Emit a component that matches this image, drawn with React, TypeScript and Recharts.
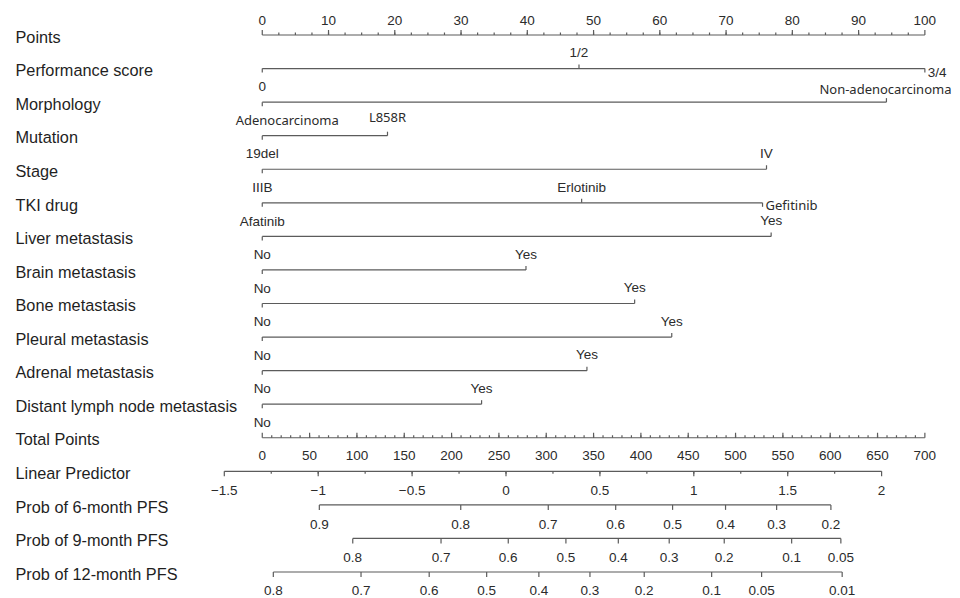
import React from 'react'
import { ComposedChart, Scatter, XAxis, YAxis } from 'recharts'

// Nomogram for progression-free survival (EGFR-TKI cohort).
// Every row sits on one shared "points" x scale (0–100); total points,
// linear predictor and probability scales are mapped onto it.

const ROW_NAMES = [
  'Points',
  'Performance score',
  'Morphology',
  'Mutation',
  'Stage',
  'TKI drug',
  'Liver metastasis',
  'Brain metastasis',
  'Bone metastasis',
  'Pleural metastasis',
  'Adrenal metastasis',
  'Distant lymph node metastasis',
  'Total Points',
  'Linear Predictor',
  'Prob of 6-month PFS',
  'Prob of 9-month PFS',
  'Prob of 12-month PFS',
]

// predictor levels and their points
const PERF_LEVELS = ['0', '1/2', '3/4']
const PERF_POINTS = [0, 47.8, 100]
const MORPH_LEVELS = ['Adenocarcinoma', 'Non-adenocarcinoma']
const MORPH_POINTS = [0, 94.2]
const MUTATION_LEVELS = ['19del', 'L858R']
const MUTATION_POINTS = [0, 18.9]
const STAGE_LEVELS = ['IIIB', 'IV']
const STAGE_POINTS = [0, 76.1]
const TKI_LEVELS = ['Afatinib', 'Erlotinib', 'Gefitinib']
const TKI_POINTS = [0, 48.2, 75.5]
const YES_NO = ['No', 'Yes']
const LIVER_POINTS = [0, 76.8]
const BRAIN_POINTS = [0, 39.8]
const BONE_POINTS = [0, 56.2]
const PLEURAL_POINTS = [0, 61.8]
const ADRENAL_POINTS = [0, 49.0]
const LYMPH_POINTS = [0, 33.1]

// scales
const POINT_TICKS = [0, 10, 20, 30, 40, 50, 60, 70, 80, 90, 100]
const TOTAL_TICKS = [0, 50, 100, 150, 200, 250, 300, 350, 400, 450, 500, 550, 600, 650, 700]
const LP_TICKS = [-1.5, -1, -0.5, 0, 0.5, 1, 1.5, 2]
const PFS6_PROBS = [0.9, 0.8, 0.7, 0.6, 0.5, 0.4, 0.3, 0.2]
const PFS6_LP = [-0.994, -0.241, 0.225, 0.584, 0.887, 1.169, 1.441, 1.73]
const PFS9_PROBS = [0.8, 0.7, 0.6, 0.5, 0.4, 0.3, 0.2, 0.1, 0.05]
const PFS9_LP = [-0.816, -0.346, 0.012, 0.319, 0.598, 0.869, 1.162, 1.521, 1.783]
const PFS12_PROBS = [0.8, 0.7, 0.6, 0.5, 0.4, 0.3, 0.2, 0.1, 0.05, 0.01]
const PFS12_LP = [-1.239, -0.772, -0.409, -0.103, 0.175, 0.447, 0.736, 1.095, 1.361, 1.79]

const TOTAL_MAX = 700 // total points at 100 points
const LP_ZERO_TOTAL = 257.5 // total points where linear predictor = 0
const TOTAL_PER_LP = 198.4

const totalToPoints = (t: number) => (t / TOTAL_MAX) * 100
const lpToPoints = (lp: number) => totalToPoints(LP_ZERO_TOTAL + lp * TOTAL_PER_LP)

const LINE = '#5b5b5b'
const TEXT = '#2b2b2b'
const FONT = '"Liberation Sans", Arial, sans-serif'

type Mark = {
  x: number
  y: number
  label: string
  dir: 'up' | 'down'
  len: number
  pos: 'above' | 'below' | 'right' | 'none'
  gap: number
}

// a few level labels were set in a different face
const ALT_LABELS: Record<string, { dx: number; dy: number }> = {
  Adenocarcinoma: { dx: 25, dy: 0 },
  'Non-adenocarcinoma': { dx: -1, dy: 3 },
  L858R: { dx: 0, dy: -2 },
  Gefitinib: { dx: 0, dy: -1.5 },
}

function categoryMarks(row: number, levels: string[], points: number[]): Mark[] {
  return levels.map((label, i) => {
    const pos = i === 0 ? 'below' : i % 2 === 1 ? 'above' : 'right'
    return {
      x: points[i],
      y: row,
      label,
      dir: pos === 'above' ? 'up' : 'down',
      len: 4,
      pos,
      gap: pos === 'above' ? 16 : 18,
    } as Mark
  })
}

function axisMarks(
  row: number,
  values: number[],
  at: (v: number) => number,
  fmt: (v: number) => string,
  dir: 'up' | 'down',
  pos: 'above' | 'below',
  gap: number,
): Mark[] {
  return values.map((v) => ({ x: at(v), y: row, label: fmt(v), dir, len: 5, pos, gap }))
}

function minorMarks(row: number, from: number, to: number, step: number, at: (v: number) => number, dir: 'up' | 'down'): Mark[] {
  const out: Mark[] = []
  for (let v = from + step; v < to - 1e-9; v += step) {
    out.push({ x: at(v), y: row, label: '', dir, len: 2.5, pos: 'none', gap: 0 })
  }
  return out
}

const signed = (v: number) => (v < 0 ? `\u2212${Math.abs(v)}` : String(v))
const id = (v: number) => v

const MAIN_ROWS: Mark[][] = [
  axisMarks(0, POINT_TICKS, id, String, 'up', 'above', 14.5),
  categoryMarks(1, PERF_LEVELS, PERF_POINTS),
  categoryMarks(2, MORPH_LEVELS, MORPH_POINTS),
  categoryMarks(3, MUTATION_LEVELS, MUTATION_POINTS),
  categoryMarks(4, STAGE_LEVELS, STAGE_POINTS),
  categoryMarks(5, TKI_LEVELS, TKI_POINTS),
  categoryMarks(6, YES_NO, LIVER_POINTS),
  categoryMarks(7, YES_NO, BRAIN_POINTS),
  categoryMarks(8, YES_NO, BONE_POINTS),
  categoryMarks(9, YES_NO, PLEURAL_POINTS),
  categoryMarks(10, YES_NO, ADRENAL_POINTS),
  categoryMarks(11, YES_NO, LYMPH_POINTS),
  axisMarks(12, TOTAL_TICKS, totalToPoints, String, 'up', 'below', 17.5),
  axisMarks(13, LP_TICKS, lpToPoints, signed, 'down', 'below', 18.5),
  axisMarks(14, PFS6_LP, lpToPoints, (v) => String(PFS6_PROBS[PFS6_LP.indexOf(v)]), 'down', 'below', 19),
  axisMarks(15, PFS9_LP, lpToPoints, (v) => String(PFS9_PROBS[PFS9_LP.indexOf(v)]), 'down', 'below', 19),
  axisMarks(16, PFS12_LP, lpToPoints, (v) => String(PFS12_PROBS[PFS12_LP.indexOf(v)]), 'down', 'below', 18),
]

const MINOR_ROWS: Mark[][] = [
  minorMarks(0, 0, 100, 2.5, id, 'up'),
  minorMarks(12, 0, 700, 10, totalToPoints, 'up'),
  minorMarks(13, -1.5, 2, 0.25, lpToPoints, 'down'),
]

const ROW_TICKS = ROW_NAMES.map((_, i) => i)

function renderMark(props: any) {
  const { cx, cy, payload } = props
  if (cx == null || cy == null) return <g />
  const m = payload as Mark
  const y2 = m.dir === 'up' ? cy - m.len : cy + m.len
  const alt = ALT_LABELS[m.label]
  let tx = cx + (alt ? alt.dx : 0)
  let ty = cy + (alt ? alt.dy : 0)
  let anchor: 'middle' | 'start' = 'middle'
  if (m.pos === 'above') ty -= m.gap
  else if (m.pos === 'below') ty += m.gap
  else if (m.pos === 'right') {
    tx = cx + 3
    ty += 4
    anchor = 'start'
  }
  return (
    <g>
      <line x1={cx} x2={cx} y1={cy} y2={y2} stroke={LINE} strokeWidth={1.2} />
      {m.label && m.pos !== 'none' ? (
        <text
          x={tx}
          y={ty}
          dy="0.35em"
          textAnchor={anchor}
          fontSize={alt ? 13 : 13.5}
          fontFamily={alt ? '"Noto Sans", sans-serif' : FONT}
          fill={TEXT}
        >
          {m.label}
        </text>
      ) : null}
    </g>
  )
}

function RowLabel(props: any) {
  const { y, payload } = props
  return (
    <text x={15.5} y={y + 2} dy="0.35em" fontSize={16.3} fontFamily={FONT} fill="#1f1f1f">
      {ROW_NAMES[payload.value]}
    </text>
  )
}

export default function App() {
  return (
    <div style={{ position: 'absolute', left: 0, top: 0, background: '#fff' }}>
      <ComposedChart width={960} height={598} margin={{ top: 35, right: 2, bottom: 26, left: 6 }}>
        <XAxis type="number" dataKey="x" domain={[-10, 105]} hide />
        <YAxis
          type="number"
          dataKey="y"
          domain={[0, 16]}
          reversed
          ticks={ROW_TICKS}
          interval={0}
          width={190}
          axisLine={false}
          tickLine={false}
          tick={(p: any) => <RowLabel {...p} />}
        />
        {MAIN_ROWS.map((marks, i) => (
          <Scatter
            key={`row-${i}`}
            data={marks}
            shape={renderMark}
            line={{ stroke: LINE, strokeWidth: 1.2 }}
            lineType="joint"
            isAnimationActive={false}
          />
        ))}
        {MINOR_ROWS.map((marks, i) => (
          <Scatter key={`minor-${i}`} data={marks} shape={renderMark} isAnimationActive={false} />
        ))}
      </ComposedChart>
    </div>
  )
}
